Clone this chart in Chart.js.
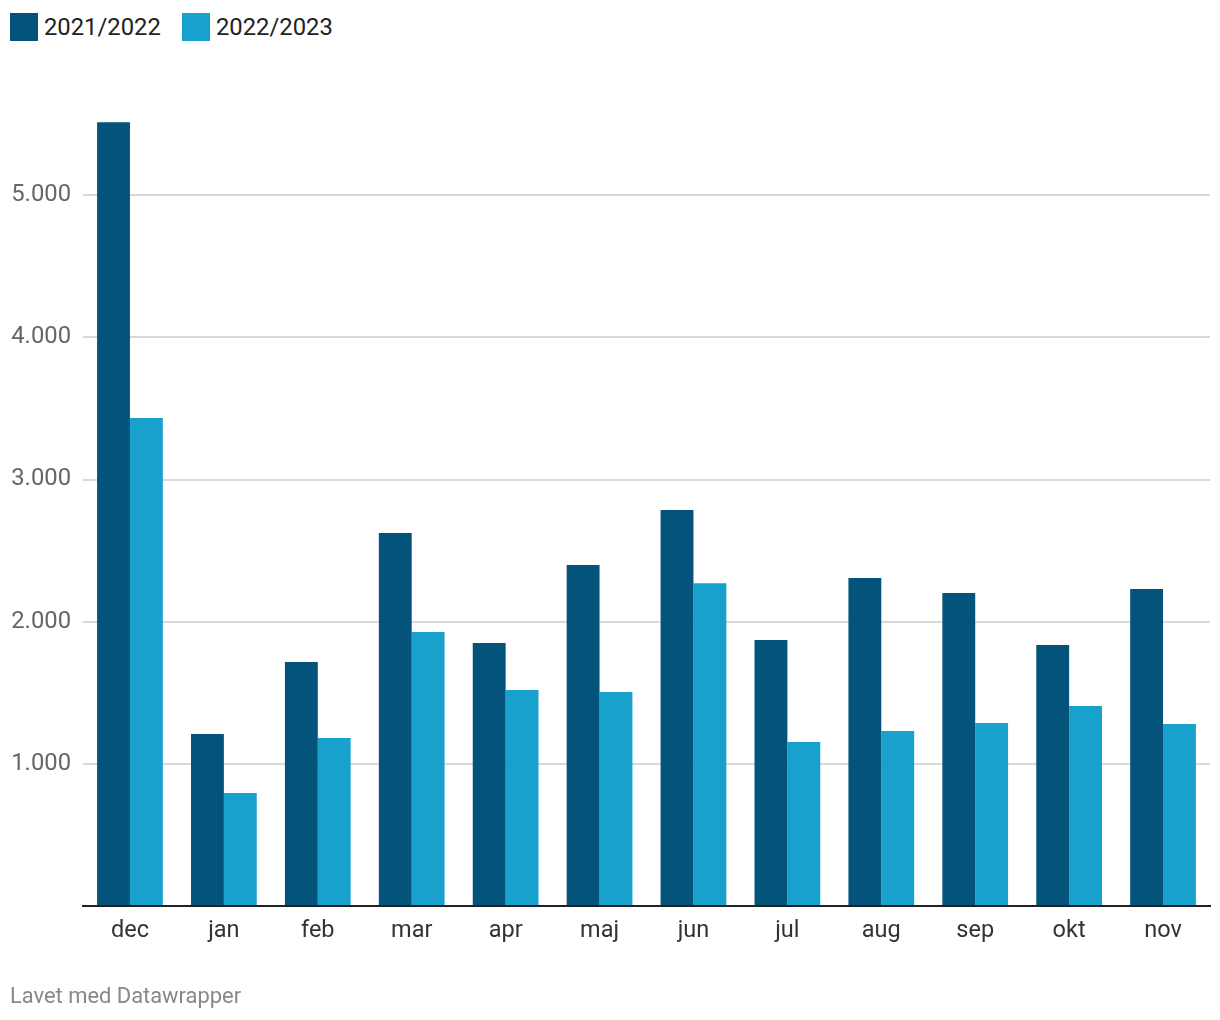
<!DOCTYPE html>
<html><head><meta charset="utf-8">
<script src="https://cdn.jsdelivr.net/npm/chart.js@4"></script>
<style>
html,body{margin:0;padding:0;background:#fff;width:1220px;height:1020px;overflow:hidden;font-family:Roboto,sans-serif;}
#wrap{position:absolute;left:0;top:0;width:1220px;height:1020px;}
.leg{position:absolute;top:12px;height:30px;display:flex;align-items:center;font-size:23.8px;color:#222;}
.sw{width:28px;height:28px;margin-right:6px;}
#foot{position:absolute;left:10px;top:983px;font-size:21.9px;color:#888;}
</style></head><body>
<div class="leg" style="left:10px"><div class="sw" style="background:#03537b"></div>2021/2022</div>
<div class="leg" style="left:182px"><div class="sw" style="background:#18a1cd"></div>2022/2023</div>
<div id="wrap"><canvas id="c" width="1220" height="1020"></canvas></div>
<div id="foot">Lavet med Datawrapper</div>
<script>
const categories = ["dec","jan","feb","mar","apr","maj","jun","jul","aug","sep","okt","nov"];
const series1Name = "2021/2022";
const series2Name = "2022/2023";
const series1 = [5513,1210,1716,2623,1850,2398,2785,1871,2307,2201,1835,2229];
const series2 = [3432,795,1181,1927,1519,1505,2271,1153,1231,1287,1406,1280];
const yTicks = [1000,2000,3000,4000,5000];

new Chart(document.getElementById('c'), {
  type: 'bar',
  data: {
    labels: categories,
    datasets: [
      {label: series1Name, data: series1, backgroundColor: '#03537b', categoryPercentage: 0.7, barPercentage: 1.0},
      {label: series2Name, data: series2, backgroundColor: '#18a1cd', categoryPercentage: 0.7, barPercentage: 1.0}
    ]
  },
  options: {
    responsive: false,
    animation: false,
    events: [],
    layout: {padding: {left: 0, right: 10, top: 53, bottom: 64}},
    plugins: {legend: {display: false}, tooltip: {enabled: false}},
    scales: {
      x: {
        grid: {display: false, drawTicks: false},
        border: {display: true, color: '#222', width: 2},
        ticks: {color: '#333', font: {family: 'Roboto', size: 23.5}, padding: 11},
        afterFit: s => { s.height = 50; }
      },
      y: {
        min: 0, max: 6000,
        afterBuildTicks: s => { s.ticks = [0, ...yTicks, 6000].map(v => ({value: v})); },
        grid: {
          color: ctx => (ctx.tick && (ctx.tick.value === 0 || ctx.tick.value === 6000)) ? 'rgba(0,0,0,0)' : '#d9d9d9',
          lineWidth: 2, drawTicks: false
        },
        border: {display: false},
        ticks: {
          color: '#666', font: {family: 'Roboto', size: 23.8}, padding: 12,
          callback: v => yTicks.includes(v) ? v.toLocaleString('da-DK').replace(/,/g,'.') : ''
        },
        afterFit: s => { s.width = 83; }
      }
    }
  }
});
</script>
</body></html>
